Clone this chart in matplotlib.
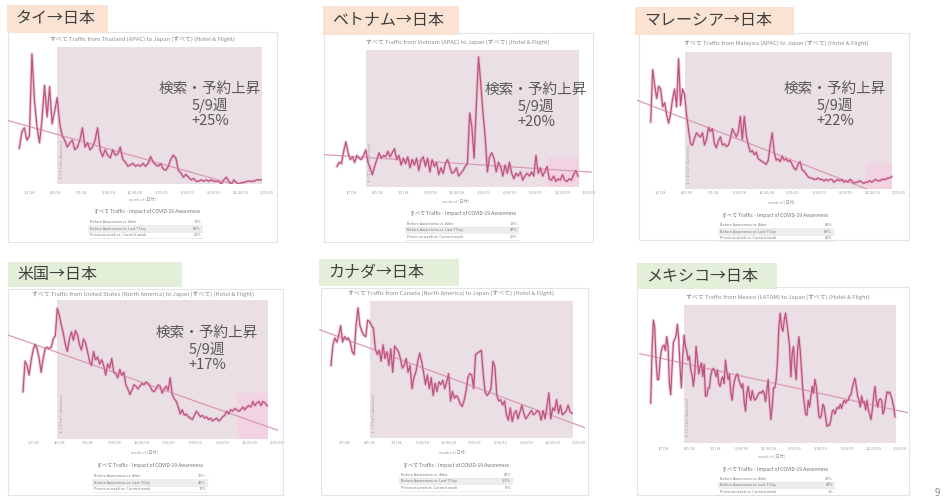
import numpy as np
import matplotlib.pyplot as plt
from matplotlib.patches import Rectangle

plt.rcParams['font.family'] = ['Noto Sans CJK JP', 'DejaVu Sans']

# panel headings and chart subtitles
titles = ['タイ→日本', 'ベトナム→日本', 'マレーシア→日本', '米国→日本', 'カナダ→日本', 'メキシコ→日本']
sources = ['Thailand (APAC)', 'Vietnam (APAC)', 'Malaysia (APAC)',
           'United States (North America)', 'Canada (North America)', 'Mexico (LATAM)']

# weekly traffic index
thailand = [26, 38, 41, 32, 35, 95, 61, 42, 30, 47, 72, 49, 71, 44, 53, 63, 44, 35, 32, 27,
            30, 32, 25, 27, 32, 41, 27, 30, 25, 27, 32, 41, 25, 20, 25, 21, 19, 25, 21, 22,
            27, 18, 16, 13, 14, 15, 13, 14, 13, 15, 13, 15, 20, 16, 14, 13, 15, 11, 10, 13,
            18, 21, 19, 10, 8, 5, 7, 5, 3, 4, 2, 2, 3, 2, 3, 2, 3, 2, 2, 2,
            0, 3, 5, 2, 0, 3, 1, 0, 1, 1, 2, 2, 2, 2, 3, 3, 3]
vietnam = [15, 18, 17, 26, 33, 25, 20, 22, 18, 23, 21, 20, 23, 27, 18, 14, 9, 15, 20, 25,
           21, 23, 22, 26, 22, 25, 28, 20, 23, 16, 21, 17, 22, 14, 20, 16, 21, 12, 20, 22,
           15, 21, 11, 20, 15, 18, 9, 14, 10, 17, 20, 15, 10, 11, 14, 8, 10, 12, 15, 17,
           54, 44, 21, 59, 95, 76, 54, 37, 11, 22, 25, 21, 11, 18, 15, 8, 16, 10, 18, 10,
           6, 10, 8, 11, 5, 8, 10, 8, 11, 8, 23, 10, 14, 8, 11, 15, 6, 5, 8, 4,
           6, 5, 9, 5, 4, 6, 5, 9, 12, 8]
malaysia = [49, 87, 76, 66, 75, 73, 60, 63, 54, 48, 55, 66, 73, 60, 95, 61, 73, 69, 54, 43,
            33, 32, 37, 41, 39, 38, 41, 32, 36, 45, 42, 44, 33, 30, 35, 38, 32, 33, 31, 32,
            37, 44, 41, 38, 42, 53, 36, 53, 39, 32, 27, 28, 25, 27, 22, 21, 20, 19, 18, 21,
            32, 41, 27, 21, 22, 20, 24, 21, 22, 20, 21, 18, 15, 14, 18, 20, 14, 13, 11, 9,
            8, 8, 7, 7, 8, 7, 7, 6, 7, 6, 7, 7, 5, 6, 7, 6, 7, 5, 6, 5,
            7, 6, 4, 5, 5, 6, 5, 4, 5, 5, 6, 5, 6, 7, 6, 6, 7, 7, 7, 8, 8, 9]
usa = [34, 56, 53, 46, 56, 64, 68, 65, 58, 48, 58, 65, 66, 65, 66, 72, 74, 94, 89, 82,
       76, 68, 63, 72, 77, 71, 78, 75, 68, 64, 72, 69, 63, 56, 53, 63, 57, 59, 54, 57,
       53, 46, 54, 51, 58, 48, 47, 44, 50, 46, 48, 39, 36, 32, 35, 39, 38, 36, 38, 40,
       39, 41, 40, 38, 35, 34, 36, 39, 38, 33, 36, 38, 35, 44, 32, 29, 27, 23, 18, 21,
       17, 18, 16, 15, 14, 17, 20, 18, 16, 17, 15, 16, 14, 15, 13, 14, 15, 13, 14, 16,
       17, 20, 18, 21, 20, 22, 21, 20, 21, 23, 21, 23, 24, 23, 27, 24, 26, 27, 24, 27,
       26, 24]
canada = [53, 68, 73, 70, 75, 82, 70, 74, 72, 73, 70, 63, 61, 82, 95, 82, 78, 75, 74, 86,
          85, 82, 80, 65, 61, 64, 56, 68, 58, 63, 53, 65, 48, 67, 65, 63, 58, 51, 53, 58,
          48, 53, 36, 44, 48, 56, 62, 56, 48, 39, 46, 36, 44, 31, 40, 34, 41, 39, 42, 36,
          41, 47, 27, 34, 29, 31, 29, 25, 23, 27, 34, 44, 47, 46, 36, 61, 62, 63, 64, 46,
          33, 31, 33, 36, 56, 52, 31, 27, 28, 24, 27, 17, 13, 22, 12, 18, 20, 14, 19, 24,
          18, 14, 16, 18, 20, 17, 18, 20, 19, 13, 20, 14, 23, 33, 14, 22, 20, 28, 18, 24,
          17, 18, 20, 24, 19, 18]
mexico = [29, 67, 89, 84, 60, 46, 46, 60, 67, 70, 71, 67, 77, 70, 43, 35, 55, 73, 75, 78,
          86, 75, 55, 40, 63, 78, 70, 67, 60, 63, 53, 49, 41, 50, 70, 60, 50, 55, 58, 48,
          57, 34, 34, 40, 40, 49, 53, 54, 52, 48, 53, 43, 41, 46, 48, 43, 60, 52, 46, 50,
          36, 31, 41, 46, 49, 50, 46, 43, 40, 43, 30, 23, 36, 41, 34, 31, 38, 34, 31, 32,
          34, 36, 37, 36, 38, 36, 30, 38, 46, 29, 17, 26, 40, 40, 46, 60, 84, 94, 84, 81,
          89, 94, 87, 79, 70, 48, 65, 70, 55, 46, 67, 77, 67, 53, 38, 29, 21, 20, 31, 26,
          34, 41, 36, 46, 41, 31, 19, 18, 21, 28, 26, 19, 12, 13, 13, 17, 23, 24, 21, 24,
          26, 25, 28, 25, 29, 31, 29, 31, 31, 34, 35, 40, 44, 47, 41, 34, 31, 26, 34, 29,
          30, 24, 31, 24, 21, 17, 24, 34, 41, 31, 26, 31, 32, 31, 21, 24, 31, 37, 36, 37,
          34, 31, 26, 19]
series = [thailand, vietnam, malaysia, usa, canada, mexico]

# week index where COVID awareness starts (shaded area)
aware_week = [15, 13, 17, 17, 20, 25]
# week index where the recent rise starts (pink box), None = no box
rise_week = [None, 95, 108, 106, None, None]
# linear trend value at first and last week
trend_first = [44, 23, 61, 71, 76, 63]
trend_last = [-6, 11.5, -7, 9, 11, 24]

# callouts
rise_pct = ['+25%', '+20%', '+22%', '+17%', None, None]
rise_text = '検索・予約上昇'
rise_date = '5/9週'

# summary tables under each chart
table_rows = ['Before Awareness vs. After', 'Before Awareness vs. Last 7 Day',
              'Previous week vs. Current week']
table_vals = [['71%', '88%', '25%'], ['18%', '47%', '20%'], ['68%', '88%', '22%'],
              ['36%', '46%', '17%'], ['47%', '-15%', '-9%'], ['38%', '47%', '1%']]
tick_labels = ['1/7/18', '4/1/18', '7/1/18', '9/30/18', '12/30/18',
               '3/31/19', '6/30/19', '9/29/19', '12/29/19', '3/29/20']

# layout in pixels (948 x 500 figure)
head_box = [(7, 5, 108, 33), (323, 6, 459, 35), (635, 7, 794, 35),
            (8, 262, 182, 287), (319, 259, 459, 286), (637, 263, 777, 289)]
head_color = ['#fbe3d3'] * 3 + ['#e4efd9'] * 3
card_box = [(8, 32, 277, 242), (324, 33, 593, 242), (639, 33, 909, 240),
            (8, 289, 283, 495), (321, 288, 588, 495), (637, 287, 909, 495)]
plot_box = [(8, 262, 47, 184), (324, 592, 50, 187), (637, 893, 52, 189),
            (8, 278, 300, 439), (319, 585, 301, 438), (639, 908, 305, 443)]
line_span = [(19.3, 261.7), (337, 578), (650.7, 891.7), (23, 267), (331, 572), (650.7, 895)]
rise_frac = [0, 0.22, 0.19, 0.33, 0, 0]
sub_pos = [(142, 39), (458, 42), (776, 43), (143, 294), (451, 293), (778, 297)]
tick_pos = [(29, 267, 192), (351, 589, 193), (660, 899, 193),
            (33, 277, 443), (344, 579, 443), (663, 900, 448)]
xtitle_pos = [(143, 199), (456, 201), (782, 202), (145, 452), (453, 452), (772, 456)]
table_title_pos = [(147, 212), (463, 213), (775, 215), (150, 466), (456, 465), (775, 469)]
table_x = [(88, 203), (405, 519), (718, 834), (92, 208), (399, 513), (718, 835)]
table_y = [(222, 229, 235), (224, 230, 237), (225, 232, 238),
           (476, 483, 489), (475, 481, 488), (479, 485, 492)]
callout_pos = [(210, 105), (536, 106), (835, 105), (207, 349), None, None]

W, H = 948, 500
fig = plt.figure(figsize=(W / 100, H / 100), dpi=100)
bg = fig.add_axes([0, 0, 1, 1])
bg.set_xlim(0, W)
bg.set_ylim(H, 0)
bg.axis('off')

shade_color = '#e9dfe4'
line_color = '#b9557e'
glow_color = '#eaa7c1'
trend_color = '#d99bb3'
grey = '#9a9a9a'

for i in range(6):
    # heading box
    x0, y0, x1, y1 = head_box[i]
    bg.add_patch(Rectangle((x0, y0), x1 - x0, y1 - y0, color=head_color[i], lw=0, zorder=1))
    bg.text(x0 + 9, (y0 + y1) / 2, titles[i], fontsize=11.5, color='#3f3f3f',
            va='center', ha='left', zorder=3)

    # white card
    x0, y0, x1, y1 = card_box[i]
    bg.add_patch(Rectangle((x0, y0), x1 - x0, y1 - y0, facecolor='white',
                           edgecolor='#e4e4e4', lw=0.8, zorder=0.5))

    sx, sy = sub_pos[i]
    bg.text(sx, sy, 'すべて Traffic from ' + sources[i] + ' to Japan (すべて) (Hotel & Flight)',
            fontsize=4.2, color='#8c8c8c', ha='center', va='center')

    t0, t1, ty = tick_pos[i]
    for tx, lab in zip(np.linspace(t0, t1, len(tick_labels)), tick_labels):
        bg.text(tx, ty, lab, fontsize=2.8, color=grey, ha='center', va='center')
    bg.text(*xtitle_pos[i], 'week of [日付]', fontsize=3, color=grey, ha='center', va='center')

    # summary table
    bx, by = table_title_pos[i]
    bg.text(bx, by, 'すべて Traffic - Impact of COVID-19 Awareness', fontsize=3.6,
            color='#707070', ha='center', va='center')
    tx0, tx1 = table_x[i]
    for r, ry in enumerate(table_y[i]):
        if r == 1:
            bg.add_patch(Rectangle((tx0, ry - 3), tx1 - tx0, 6, color='#ededed', lw=0, zorder=0.8))
        bg.plot([tx0, tx1], [ry + 3, ry + 3], color='#dddddd', lw=0.4)
        bg.text(tx0 + 2, ry, table_rows[r], fontsize=2.7, color='#777777', ha='left', va='center')
        bg.text(tx1 - 2, ry, table_vals[i][r], fontsize=2.7, color='#777777', ha='right', va='center')

    # chart
    vals = series[i]
    n = len(vals)
    L, R, T, B = plot_box[i]
    s, e = line_span[i]
    ax = fig.add_axes([L / W, 1 - B / H, (R - L) / W, (B - T) / H])
    ax.set_facecolor('none')
    wpp = (n - 1) / (e - s)
    ax.set_xlim((L - s) * wpp, (n - 1) + (R - e) * wpp)
    ax.set_ylim(0, 100)
    ax.axis('off')

    ax.axvspan(aware_week[i], n - 1 + 0.4, color=shade_color, lw=0, zorder=0)
    if rise_week[i] is not None:
        ax.axvspan(rise_week[i], n - 1 + 0.4, ymax=rise_frac[i], color='#f2d3e1', lw=0, zorder=0.5)
    ax.text(aware_week[i] + 0.8, 4, 'すべて Traffic (Awareness)', rotation=90, fontsize=2.3,
            color='#a8a0a4', ha='left', va='bottom')

    tx = np.array(ax.get_xlim())
    ty_ = trend_first[i] + (trend_last[i] - trend_first[i]) * tx / (n - 1)
    ax.plot(tx, ty_, color=trend_color, lw=0.9, zorder=2)

    weeks = np.arange(n)
    ax.plot(weeks, vals, color=glow_color, lw=2.2, alpha=0.6, zorder=3)
    ax.plot(weeks, vals, color=line_color, lw=0.9, zorder=4)

    if callout_pos[i] is not None:
        cx, cy = callout_pos[i]
        bg_txt = rise_text + '\n' + rise_date + '\n' + rise_pct[i]
        fig.text(cx / W, 1 - cy / H, bg_txt, fontsize=10.5, color='#595959',
                 ha='center', va='center', linespacing=1.1, zorder=10)

# page number in the corner
bg.text(937, 493, '9', fontsize=7, color='#888888', ha='center', va='center')

fig.savefig('out.png', dpi=100)
